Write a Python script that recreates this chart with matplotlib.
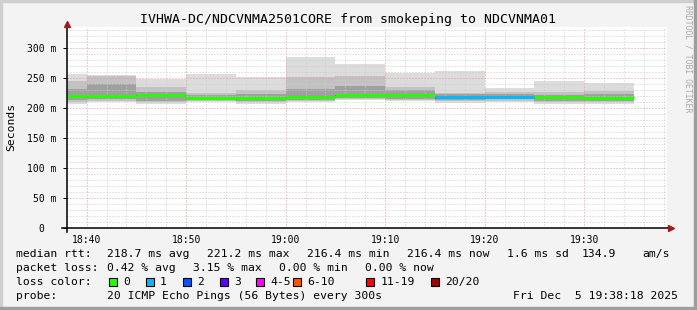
import matplotlib.pyplot as plt
from matplotlib.patches import Rectangle

plt.rcParams["font.family"] = "DejaVu Sans Mono"

W, H = 697, 310

# 5-minute steps, labelled by end of step
seg_end = ["18:40", "18:45", "18:50", "18:55", "19:00", "19:05",
           "19:10", "19:15", "19:20", "19:25", "19:30", "19:35"]
median = [220.5, 220.5, 222.0, 216.6, 216.6, 219.4, 223.0, 222.0, 219.4, 219.4, 219.4, 216.6]
loss = [0, 0, 0, 0, 0, 0, 0, 0, 1, 1, 0, 0]
# smoke bands (ms), outer to inner
outer_lo = [208, 211, 207, 211, 208, 211, 214, 212, 209, 211, 208, 208]
outer_hi = [257, 255.5, 249, 257, 251.5, 286, 274, 259, 262, 233, 245.5, 241.6]
mid_lo = [211, 213, 210, 213, 211, 213, 216, 214, 212, 213, 211, 211]
mid_hi = [245, 254, 236, 225, 230, 253, 253, 236, 226, 227, 227, 228]
inner_lo = [214, 215, 213, 214, 213, 214, 218, 216, 214, 215, 213, 213]
inner_hi = [232, 241, 228, 222, 224, 232, 238, 231, 223, 224, 222, 224]

loss_labels = ["0", "1", "2", "3", "4-5", "6-10", "11-19", "20/20"]
loss_colors = ["#26ff00", "#00b8ff", "#0059ff", "#5e00ff", "#ff00ff", "#ff5500", "#ff0000", "#a00000"]

xticks = ["18:40", "18:50", "19:00", "19:10", "19:20", "19:30"]
yticks = [0, 50, 100, 150, 200, 250, 300]


def minutes(s):
    h, m = s.split(":")
    return (int(h) - 18) * 60 + int(m)


ends = [minutes(s) for s in seg_end]
starts = [e - 5 for e in ends]

fig = plt.figure(figsize=(W / 100, H / 100), dpi=100, facecolor="#f3f3f3")
px = lambda x: x / W
py = lambda y: 1 - y / H

# 3D frame
fig.patches.append(Rectangle((0, py(2)), 1, 2 / H, transform=fig.transFigure, color="#cfcfcf", zorder=0))
fig.patches.append(Rectangle((0, 0), 2 / W, 1, transform=fig.transFigure, color="#cfcfcf", zorder=0))
fig.patches.append(Rectangle((0, 0), 1, 3 / H, transform=fig.transFigure, color="#9e9e9e", zorder=0))
fig.patches.append(Rectangle((1 - 3 / W, 0), 3 / W, 1, transform=fig.transFigure, color="#9e9e9e", zorder=0))

ax = fig.add_axes([px(66.7), py(228.3), 600 / W, (228.3 - 27) / H])
ax.set_facecolor("white")
ax.set_xlim(38.3, 98.3)
ax.set_ylim(0, (228.3 - 27) / 0.6)

# smoke
for lo, hi, col in [(outer_lo, outer_hi, "#dcdcdc"), (mid_lo, mid_hi, "#c2c2c2"),
                    (inner_lo, inner_hi, "#a0a0a0")]:
    ax.bar(starts, [h - l for l, h in zip(lo, hi)], bottom=lo, width=5, align="edge",
           color=col, linewidth=0, zorder=1)
ax.bar(starts, [3] * len(median), bottom=[m - 3.5 for m in median], width=5, align="edge",
       color="#5a5a5a", linewidth=0, zorder=1.2)
ax.hlines(median, starts, ends, colors=[loss_colors[l] for l in loss], linewidth=2.2,
          zorder=3, capstyle="butt")

# grid
ax.set_xticks([minutes(s) for s in xticks])
ax.set_xticklabels(xticks, fontsize=7)
ax.set_xticks(range(38, 99, 2), minor=True)
ax.set_yticks(yticks)
ax.set_yticklabels(["0\u00a0\u00a0"] + [f"{v} m" for v in yticks[1:]], fontsize=7)
ax.set_yticks(range(0, 336, 10), minor=True)
ax.set_axisbelow(False)
ax.grid(which="minor", color="#cccccc", linewidth=0.72, linestyle=(0, (1, 2)), zorder=2)
ax.grid(which="major", color="#e49a9a", linewidth=0.72, linestyle=(0, (1, 2)), zorder=2.1)
ax.tick_params(axis="y", which="major", length=3, width=0.72, pad=4.5, colors="black")
ax.tick_params(axis="x", which="major", length=0, pad=4.5, colors="black")
ax.tick_params(which="minor", length=0)
for s in ax.spines.values():
    s.set_visible(False)

# axes with arrows
ax.plot([-5 / 600, 1 + 2 / 600], [0, 0], color="black", lw=1.1, transform=ax.transAxes,
        clip_on=False, zorder=4)
ax.plot([0, 0], [-4 / 201, 1 + 1 / 201], color="black", lw=1.1, transform=ax.transAxes,
        clip_on=False, zorder=4)
ax.plot([1 + 4 / 600], [0], marker=">", ms=4, color="#9b1c1c", transform=ax.transAxes,
        clip_on=False, zorder=5)
ax.plot([0], [1 + 3 / 201], marker="^", ms=4, color="#9b1c1c", transform=ax.transAxes,
        clip_on=False, zorder=5)

fig.text(px(348), py(19), "IVHWA-DC/NDCVNMA2501CORE from smokeping to NDCVNMA01",
         ha="center", va="center", fontsize=9.5)
fig.text(px(11), py(127), "Seconds", rotation=90, ha="center", va="center", fontsize=8.2)
fig.text(px(688), py(5), "RRDTOOL / TOBI OETIKER", rotation=270, ha="center", va="top",
         fontsize=5.9, color="#aaaaaa")

fs = 8.2
# legend rows
fig.text(px(16), py(254), "median rtt:", va="center", fontsize=fs)
for x, s in [(107, "218.7 ms avg"), (207, "221.2 ms max"), (307, "216.4 ms min"),
             (407, "216.4 ms now"), (507, "1.6 ms sd"), (582, "134.9"), (642, "am/s")]:
    fig.text(px(x), py(254), s, va="center", fontsize=fs)

fig.text(px(16), py(268), "packet loss:", va="center", fontsize=fs)
for x, s in [(107, "0.42 % avg"), (193, "3.15 % max"), (279, "0.00 % min"), (365, "0.00 % now")]:
    fig.text(px(x), py(268), s, va="center", fontsize=fs)

fig.text(px(16), py(282), "loss color:", va="center", fontsize=fs)
box_x = [108.5, 145.5, 182.5, 219.5, 256, 292.5, 366, 431]
for x, lab, col in zip(box_x, loss_labels, loss_colors):
    fig.patches.append(Rectangle((px(x), py(286)), 8 / W, 8 / H, transform=fig.transFigure,
                                 facecolor=col, edgecolor="black", linewidth=0.8))
    fig.text(px(x + 14.5), py(282), lab, va="center", fontsize=fs)

fig.text(px(16), py(296), "probe:", va="center", fontsize=fs)
fig.text(px(107), py(296), "20 ICMP Echo Pings (56 Bytes) every 300s", va="center", fontsize=fs)
fig.text(px(513), py(296), "Fri Dec  5 19:38:18 2025", va="center", fontsize=fs)

fig.savefig("out.png", dpi=100, facecolor=fig.get_facecolor())
